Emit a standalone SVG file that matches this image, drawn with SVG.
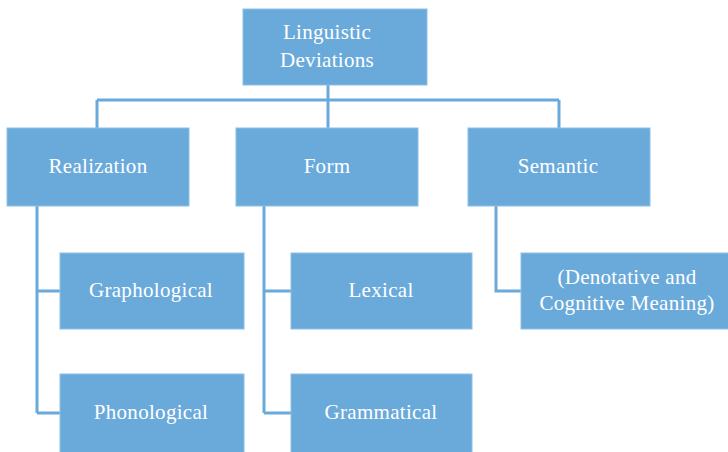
<svg xmlns="http://www.w3.org/2000/svg" width="728" height="452" viewBox="0 0 728 452">
<style>
.box{fill:#6aaadb;stroke:#8dbfe6;stroke-width:1}
.lbl{fill:#ffffff;font-family:"Liberation Serif","Times New Roman",serif;font-size:21px;text-anchor:middle;letter-spacing:0.3px}
.con{fill:none;stroke:#6aaadb;stroke-width:3}
</style>
<rect width="728" height="452" fill="#ffffff"/>
<g id="connectors">
<path class="con" d="M328 85V100M97 100H559M97 100V128M328 100V128M559 100V128"/>
<path class="con" d="M37 206V413M37 291H60M37 413H60"/>
<path class="con" d="M264 206V413M264 291H291M264 413H291"/>
<path class="con" d="M496 206V291H521"/>
</g>
<g id="n-root"><rect class="box" x="243" y="9" width="184" height="76"/><text class="lbl" x="327" y="39">Linguistic</text><text class="lbl" x="327" y="67">Deviations</text></g>
<g id="n-realization"><rect class="box" x="7" y="128" width="182" height="78"/><text class="lbl" x="98" y="173">Realization</text></g>
<g id="n-form"><rect class="box" x="236" y="128" width="182" height="78"/><text class="lbl" x="327" y="173">Form</text></g>
<g id="n-semantic"><rect class="box" x="468" y="128" width="182" height="78"/><text class="lbl" x="558" y="173">Semantic</text></g>
<g id="n-graphological"><rect class="box" x="60" y="253" width="184" height="76"/><text class="lbl" x="151" y="297">Graphological</text></g>
<g id="n-phonological"><rect class="box" x="60" y="374" width="184" height="82"/><text class="lbl" x="151" y="419">Phonological</text></g>
<g id="n-lexical"><rect class="box" x="291" y="253" width="181" height="76"/><text class="lbl" x="381" y="297">Lexical</text></g>
<g id="n-grammatical"><rect class="box" x="291" y="374" width="181" height="82"/><text class="lbl" x="381" y="419">Grammatical</text></g>
<g id="n-denotative"><rect class="box" x="521" y="253" width="212" height="76"/><text class="lbl" x="627" y="284">(Denotative and</text><text class="lbl" x="627" y="310">Cognitive Meaning)</text></g>
</svg>
